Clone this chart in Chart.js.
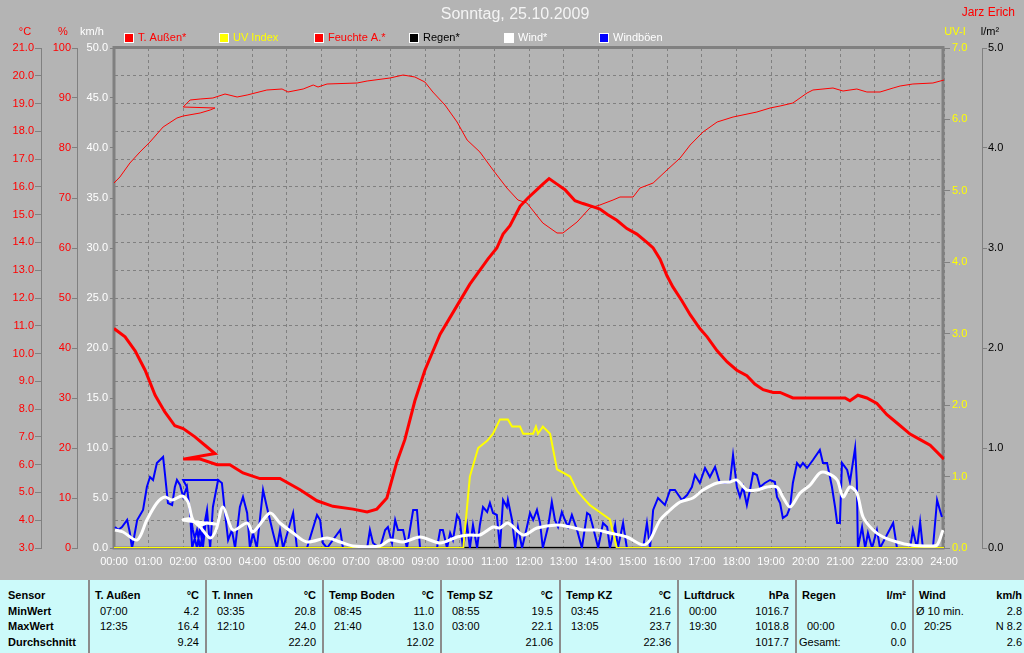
<!DOCTYPE html>
<html lang="de">
<head>
<meta charset="UTF-8">
<title>Sonntag, 25.10.2009</title>
<style>
  html, body { margin: 0; padding: 0; }
  body {
    width: 1024px; height: 653px; overflow: hidden; position: relative;
    background: #b4b4b4;
    font-family: "Liberation Sans", Arial, sans-serif;
  }
  #chart { position: absolute; left: 0; top: 0; }
  #stats { position: absolute; left: 0; top: 580px; width: 1024px; height: 73px; background: #ccfafa; }
  .col { position: absolute; top: 0; height: 73px; box-sizing: border-box; padding-top: 8px; }
  .col.sep { border-left: 2px solid #8c8c8c; }
  .row { position: relative; height: 15.7px; line-height: 15.7px; font-size: 11px; color: #000; white-space: nowrap; }
  .row span { position: absolute; top: 0; }
  .b { font-weight: bold; }
</style>
<script src="https://cdn.jsdelivr.net/npm/chart.js"></script>
</head>
<body>
<canvas id="chart" width="1024" height="575"></canvas>
<div id="stats"></div>

<script>
// --- readings (time in hours of the day) ---
// the day of the clock change: 02:00-03:00 is recorded twice
const tempTime = [0, 0.32, 0.61, 0.90, 1.19, 1.47, 1.76, 2.00, 2.34, 2.63, 2.92,
    2.00, 2.49, 2.98, 3.35, 3.73, 4.22, 4.80, 5.38, 5.87, 6.33,
    6.91, 7.32, 7.60, 7.89, 8.18, 8.41, 8.70, 8.99, 9.43, 9.86,
    10.29, 10.81, 11.07, 11.25, 11.45, 11.74, 11.97, 12.23, 12.40, 12.58,
    12.81, 13.04, 13.33, 13.56, 13.82, 14.05, 14.28, 14.54, 14.83, 15.12,
    15.41, 15.59, 15.79, 15.99, 16.16, 16.42, 16.66, 16.94, 17.15, 17.44,
    17.73, 18.01, 18.30, 18.53, 18.77, 19.06, 19.26, 19.63, 20.04, 20.41,
    21.14, 21.28, 21.51, 21.77, 22.06, 22.35, 22.64, 23.02, 23.31, 23.60,
    24.00];
const tempValues = [10.9, 10.6, 10.1, 9.4, 8.5, 7.9, 7.4, 7.3, 7.0, 6.7, 6.4,
    6.2, 6.2, 6.0, 6.0, 5.7, 5.5, 5.5, 5.1, 4.7, 4.5,
    4.4, 4.3, 4.4, 4.8, 6.1, 6.9, 8.3, 9.4, 10.7, 11.6,
    12.5, 13.4, 13.8, 14.3, 14.6, 15.3, 15.6, 15.9, 16.1, 16.3,
    16.1, 15.9, 15.5, 15.4, 15.3, 15.2, 15.0, 14.8, 14.5, 14.3,
    14.0, 13.8, 13.4, 12.8, 12.4, 11.9, 11.4, 10.9, 10.6, 10.1,
    9.7, 9.4, 9.2, 8.9, 8.7, 8.6, 8.6, 8.4, 8.4, 8.4,
    8.4, 8.3, 8.5, 8.4, 8.2, 7.8, 7.5, 7.1, 6.9, 6.7,
    6.2];

const humTime = [0, 0.17, 0.46, 0.75, 1.04, 1.42, 1.82, 2.00, 2.49, 2.78, 2.92,
    2.00, 2.20, 2.49, 2.86, 3.21, 3.56, 3.85, 4.42, 4.86, 5.03,
    5.47, 5.76, 5.90, 6.16, 7.03, 7.32, 7.98, 8.36, 8.70, 8.99,
    9.22, 9.57, 9.92, 10.21, 10.58, 10.96, 11.36, 11.68, 11.94, 12.40,
    12.81, 12.98, 13.39, 13.76, 14.05, 14.43, 14.63, 15.01, 15.21, 15.59,
    15.99, 16.37, 16.66, 17.03, 17.44, 17.90, 18.59, 18.97, 19.26, 19.63,
    20.04, 20.21, 20.79, 21.08, 21.48, 21.77, 22.15, 22.53, 22.73, 23.10,
    23.68, 24.00];
const humValues = [73.0, 74.2, 77.0, 79.2, 81.2, 84.2, 86.0, 86.4, 87.0, 87.6, 88.0,
    88.2, 89.6, 89.8, 90.0, 90.8, 90.2, 90.6, 91.6, 91.8, 91.2,
    91.8, 92.6, 92.2, 92.8, 93.0, 93.4, 94.0, 94.6, 94.2, 93.2,
    91.2, 88.6, 85.2, 81.6, 79.2, 75.6, 72.0, 69.6, 69.0, 65.0,
    63.0, 63.0, 65.2, 68.0, 68.6, 69.6, 70.2, 70.2, 72.0, 73.0,
    75.6, 78.0, 80.6, 83.2, 85.2, 86.2, 87.2, 88.0, 88.4, 89.0,
    91.0, 91.6, 92.0, 91.4, 91.8, 91.2, 91.2, 92.0, 92.4, 92.8,
    93.0, 93.6];

const uvTime = [0, 10.10, 10.29, 10.53, 10.79, 10.96, 11.16, 11.39, 11.51, 11.74,
    11.83, 12.12, 12.20, 12.26, 12.40, 12.61, 12.81, 13.19, 13.39, 13.76,
    14.05, 14.34, 14.54, 24];
const uvValues = [0, 0, 1.0, 1.4, 1.5, 1.6, 1.8, 1.8, 1.7, 1.7,
    1.6, 1.6, 1.7, 1.6, 1.7, 1.6, 1.1, 1.0, 0.8, 0.6,
    0.5, 0.4, 0, 0];

const rainTime = [0, 24];
const rainValues = [0, 0];

const windTime = [0.03, 0.26, 0.67, 0.95, 1.24, 1.47, 1.68, 1.97, 2.14, 2.28, 2.49, 2.70, 2.92,
    2.00, 2.20, 2.49, 2.78, 2.95, 3.15, 3.44, 3.85, 4.02, 4.51,
    4.80, 5.18, 5.58, 6.16, 6.54, 6.91, 7.69, 7.98, 8.36, 8.85,
    9.43, 9.92, 10.29, 10.58, 10.96, 11.16, 11.39, 11.83, 12.23, 12.81,
    13.19, 13.56, 13.97, 14.34, 14.83, 15.30, 15.50, 15.79, 16.08, 16.37,
    16.74, 17.03, 17.44, 17.81, 18.01, 18.30, 18.59, 18.88, 19.17, 19.34,
    19.55, 19.84, 20.13, 20.41, 20.62, 20.91, 21.08, 21.28, 21.48, 21.66,
    21.95, 22.24, 22.64, 23.02, 23.60, 23.80, 23.97];
const windValues = [1.8, 1.6, 0.8, 2.8, 4.5, 5.1, 4.8, 5.2, 4.6, 2.8, 2.3, 2.5, 2.4,
    2.8, 2.9, 2.1, 1.0, 1.8, 4.1, 1.8, 2.5, 1.6, 3.5,
    2.5, 1.5, 0.6, 1.0, 0.6, 0.2, 0.2, 0.8, 0.6, 1.1,
    0.5, 1.1, 1.3, 1.3, 2.1, 2.0, 2.5, 1.3, 2.0, 2.3,
    2.1, 1.8, 1.8, 1.5, 1.1, 0.3, 0.8, 2.8, 3.8, 4.6,
    5.0, 5.8, 6.5, 6.6, 6.8, 5.8, 5.8, 6.1, 6.1, 5.1,
    4.1, 5.5, 6.3, 7.5, 7.5, 6.8, 5.1, 6.1, 5.5, 3.1,
    1.8, 1.1, 0.6, 0.3, 0.2, 0.3, 1.8];

const gustTime = [0.03, 0.12, 0.23, 0.38, 0.46, 0.52, 0.55, 0.67, 0.84, 0.95,
    1.04, 1.13, 1.24, 1.42, 1.47, 1.56, 1.68, 1.76, 1.82, 1.91,
    2.00, 2.11, 2.20, 2.26, 2.40, 2.49, 2.69, 2.78, 2.86, 3.01,
    2.00, 2.11, 2.20, 2.28, 2.40, 2.49, 2.57, 2.69, 2.78, 2.86,
    3.01, 3.12, 3.21, 3.30, 3.41, 3.50, 3.64, 3.73, 3.85, 3.93,
    4.02, 4.13, 4.31, 4.42, 4.60, 4.71, 4.80, 4.89, 5.18, 5.29,
    5.58, 5.87, 5.96, 6.04, 6.16, 6.54, 6.62, 7.32, 7.40, 7.49,
    7.69, 7.84, 7.92, 8.04, 8.13, 8.21, 8.36, 8.47, 8.65, 8.76,
    8.85, 9.34, 9.43, 9.51, 9.63, 9.72, 9.80, 9.92, 10.00, 10.09,
    10.21, 10.29, 10.38, 10.50, 10.58, 10.67, 10.79, 10.87, 10.96, 11.07,
    11.16, 11.25, 11.36, 11.39, 11.51, 11.60, 11.68, 11.80, 11.94, 12.03,
    12.12, 12.23, 12.32, 12.40, 12.55, 12.66, 12.75, 12.84, 12.95, 13.04,
    13.13, 13.24, 13.39, 13.53, 13.68, 13.76, 13.85, 14.00, 14.14, 14.26,
    14.34, 14.49, 14.57, 14.72, 14.83, 15.30, 15.41, 15.50, 15.59, 15.73,
    15.93, 16.08, 16.22, 16.42, 16.57, 16.71, 16.80, 16.94, 17.09, 17.23,
    17.38, 17.52, 17.67, 17.81, 17.90, 18.01, 18.10, 18.19, 18.30, 18.39,
    18.48, 18.59, 18.68, 18.82, 18.97, 19.11, 19.17, 19.26, 19.34, 19.46,
    19.55, 19.63, 19.75, 19.84, 19.92, 20.04, 20.21, 20.41, 20.50, 20.62,
    20.76, 20.85, 20.91, 20.99, 21.05, 21.20, 21.28, 21.43, 21.48, 21.51,
    21.63, 21.72, 21.80, 21.92, 22.06, 22.15, 22.53, 22.64, 23.02, 23.10,
    23.22, 23.31, 23.39, 23.68, 23.80, 23.88, 23.94];
const gustValues = [2.1, 1.8, 2.1, 2.8, 1.5, 0, 0.5, 2.8, 3.8, 6.1,
    7.1, 6.8, 8.5, 9.1, 7.5, 4.5, 4.3, 6.1, 6.8, 6.3,
    5.1, 6.1, 3.5, 0, 1.8, 0, 3.8, 0, 4.1, 6.8,
    6.8, 6.1, 3.5, 1.8, 0, 2.1, 0, 3.8, 0, 4.1,
    6.8, 6.5, 3.5, 0.8, 1.8, 0, 4.1, 5.1, 3.5, 0,
    1.5, 0, 5.8, 4.1, 1.5, 0, 1.8, 0, 3.5, 0,
    0, 3.3, 2.8, 0.5, 0, 1.8, 0, 0, 1.8, 0.5,
    0, 1.8, 2.1, 0.5, 2.8, 1.8, 1.8, 0, 3.8, 3.8,
    0, 0, 1.8, 1.8, 0, 1.5, 0.8, 3.3, 2.8, 0,
    2.3, 0, 2.3, 0, 2.3, 4.1, 3.6, 4.5, 3.5, 3.3,
    0, 4.8, 4.1, 4.8, 2.8, 0, 2.1, 0, 2.1, 3.5,
    2.8, 3.8, 2.5, 0, 2.1, 4.6, 2.8, 2.1, 3.6, 2.8,
    2.1, 3.3, 1.8, 0, 3.5, 3.3, 2.1, 0, 2.5, 2.1,
    0, 2.3, 0, 2.5, 0, 0, 2.5, 0, 3.8, 5.0,
    4.3, 5.8, 5.8, 4.8, 5.3, 6.1, 7.3, 6.5, 8.0, 7.1,
    8.1, 6.5, 6.5, 6.6, 9.3, 6.1, 5.1, 6.1, 4.3, 5.8,
    7.5, 7.3, 6.1, 6.5, 6.8, 6.6, 5.1, 4.5, 3.0, 3.3,
    4.1, 6.5, 8.5, 8.1, 8.5, 8.0, 8.8, 9.8, 8.5, 8.5,
    6.1, 4.1, 2.5, 2.5, 8.5, 7.8, 6.6, 10.0, 6.6, 0,
    2.1, 0, 1.5, 0, 1.8, 0, 2.5, 0, 0, 1.8,
    0, 2.6, 0, 0, 4.8, 3.8, 3.1];

// --- summary table ---
const sensorNames = ['T. Außen', 'T. Innen', 'Temp Boden', 'Temp SZ', 'Temp KZ', 'Luftdruck', 'Regen', 'Wind'];
const sensorUnits = ['°C', '°C', '°C', '°C', '°C', 'hPa', 'l/m²', 'km/h'];
const minTimes = ['07:00', '03:35', '08:45', '08:55', '03:45', '00:00', '', 'Ø 10 min.'];
const minValues = ['4.2', '20.8', '11.0', '19.5', '21.6', '1016.7', '', '2.8'];
const maxTimes = ['12:35', '12:10', '21:40', '03:00', '13:05', '19:30', '00:00', '20:25'];
const maxValues = ['16.4', '24.0', '13.0', '22.1', '23.7', '1018.8', '0.0', 'N 8.2'];
const avgLabels = ['', '', '', '', '', '', 'Gesamt:', ''];
const avgValues = ['9.24', '22.20', '12.02', '21.06', '22.36', '1017.7', '0.0', '2.6'];
const rowNames = ['Sensor', 'MinWert', 'MaxWert', 'Durchschnitt'];

const FONT = '"Liberation Sans", Arial, sans-serif';
Chart.defaults.font.family = FONT;
Chart.defaults.font.size = 11;

function pts(t, v) {
    return t.map((x, i) => ({x: x, y: v[i]}));
}

const legendTextColors = ['#ff0000', '#ffff00', '#ff0000', '#000000', '#ffffff', '#ffffff'];

// left axes: weight decides the order (higher = further out)
function yAxis(pos, weight, min, max, step, color, digits, width, tickLen, pad) {
    return {
        position: pos,
        weight: weight,
        min: min,
        max: max,
        ticks: {
            stepSize: step,
            color: color,
            padding: pad,
            callback: v => v.toFixed(digits)
        },
        grid: {drawOnChartArea: false, color: '#808080', tickLength: tickLen},
        border: {display: false},
        afterFit: s => { s.width = width; }
    };
}

const scales = {
    x: {
        type: 'linear',
        min: 0,
        max: 24,
        ticks: {
            stepSize: 1,
            color: '#ffffff',
            padding: 7,
            autoSkip: false,
            maxRotation: 0,
            callback: v => String(v).padStart(2, '0') + ':00'
        },
        grid: {color: '#808080', drawTicks: false},
        border: {display: false, dash: [3, 3]},
        afterFit: s => { s.height = 27; }
    },
    temp: yAxis('left', 3, 3, 21, 1, '#ff0000', 1, 41, 6, 1),
    hum: yAxis('left', 2, 0, 100, 10, '#ff0000', 0, 36, 5, 1),
    wind: yAxis('left', 1, 0, 50, 5, '#ffffff', 1, 37, 4, 2),
    uv: yAxis('right', 1, 0, 7, 1, '#ffff00', 1, 38, 6, 2),
    rain: yAxis('right', 2, 0, 5, 1, '#000000', 1, 42, 5, 1)
};
// horizontal grid follows the °C axis
scales.temp.grid.drawOnChartArea = true;
scales.temp.border = {display: true, color: '#808080', dash: [3, 3]};
scales.hum.border = {display: true, color: '#808080'};
scales.rain.border = {display: true, color: '#808080'};

const decor = {
    id: 'decor',
    beforeDatasetsDraw(chart) {
        const {ctx, chartArea: a} = chart;
        ctx.save();
        ctx.strokeStyle = '#808080';
        ctx.lineWidth = 3;
        ctx.strokeRect(a.left, a.top - 0.5, a.right - a.left - 1, a.bottom - a.top + 0.5);
        ctx.restore();
    },
    afterDraw(chart) {
        const ctx = chart.ctx;
        ctx.save();
        ctx.textBaseline = 'middle';

        ctx.font = '16px ' + FONT;
        ctx.fillStyle = '#f4f4f4';
        ctx.textAlign = 'center';
        ctx.fillText('Sonntag, 25.10.2009', 515, 15);

        ctx.font = '12px ' + FONT;
        ctx.fillStyle = '#ff0000';
        ctx.textAlign = 'right';
        ctx.fillText('Jarz Erich', 1015, 13);

        // axis captions
        ctx.font = '11px ' + FONT;
        ctx.textAlign = 'center';
        const captions = [['°C', '#ff0000', 25], ['%', '#ff0000', 63], ['km/h', '#ffffff', 92],
                          ['UV-I', '#ffff00', 955], ['l/m²', '#000000', 990]];
        captions.forEach(([t, c, x]) => { ctx.fillStyle = c; ctx.fillText(t, x, 32); });

        // legend
        ctx.textAlign = 'left';
        chart.data.datasets.forEach((ds, i) => {
            const x = 124 + i * 95;
            ctx.fillStyle = ds.borderColor;
            ctx.fillRect(x, 33, 10, 10);
            ctx.strokeStyle = '#ffffff';
            ctx.lineWidth = 1;
            ctx.strokeRect(x + 0.5, 33.5, 9, 9);
            ctx.fillStyle = legendTextColors[i];
            ctx.fillText(ds.label, x + 14, 38);
        });
        ctx.restore();
    }
};

new Chart(document.getElementById('chart'), {
    type: 'line',
    data: {
        datasets: [
            {label: 'T. Außen*', data: pts(tempTime, tempValues), yAxisID: 'temp',
             borderColor: '#ff0000', borderWidth: 3, order: 1},
            {label: 'UV Index', data: pts(uvTime, uvValues), yAxisID: 'uv',
             borderColor: '#ffff00', borderWidth: 2, order: 4},
            {label: 'Feuchte A.*', data: pts(humTime, humValues), yAxisID: 'hum',
             borderColor: '#ff0000', borderWidth: 1, order: 2},
            {label: 'Regen*', data: pts(rainTime, rainValues), yAxisID: 'rain',
             borderColor: '#000000', borderWidth: 2, order: 6},
            {label: 'Wind*', data: pts(windTime, windValues), yAxisID: 'wind',
             borderColor: '#ffffff', borderWidth: 3, tension: 0.3, order: 3},
            {label: 'Windböen', data: pts(gustTime, gustValues), yAxisID: 'wind',
             borderColor: '#0000ff', borderWidth: 2, order: 5}
        ]
    },
    options: {
        responsive: false,
        animation: false,
        devicePixelRatio: 1,
        layout: {padding: {top: 48}},
        elements: {point: {radius: 0}, line: {tension: 0}},
        plugins: {legend: {display: false}, title: {display: false}, tooltip: {enabled: false}},
        scales: scales
    },
    plugins: [decor]
});

// summary table under the chart
const colLefts = [88, 205, 322, 440, 559, 677, 795, 912, 1024];
const stats = document.getElementById('stats');

const first = document.createElement('div');
first.className = 'col';
first.style.left = '0px';
first.style.width = '88px';
rowNames.forEach(n => {
    first.innerHTML += `<div class="row b"><span style="left:8px">${n}</span></div>`;
});
stats.appendChild(first);

sensorNames.forEach((name, i) => {
    const col = document.createElement('div');
    col.className = 'col sep';
    col.style.left = colLefts[i] + 'px';
    col.style.width = (colLefts[i + 1] - colLefts[i]) + 'px';
    const right = i === sensorNames.length - 1 ? 2 : 6;
    const cells = [[name, sensorUnits[i]], [minTimes[i], minValues[i]],
                   [maxTimes[i], maxValues[i]], [avgLabels[i], avgValues[i]]];
    cells.forEach(([l, r], k) => {
        const indent = k === 0 ? 5 : (/^\d/.test(l) ? 10 : 2);
        col.innerHTML += `<div class="row${k === 0 ? ' b' : ''}">` +
            `<span style="left:${indent}px">${l}</span>` +
            `<span style="right:${right}px">${r}</span></div>`;
    });
    stats.appendChild(col);
});
</script>
</body>
</html>
